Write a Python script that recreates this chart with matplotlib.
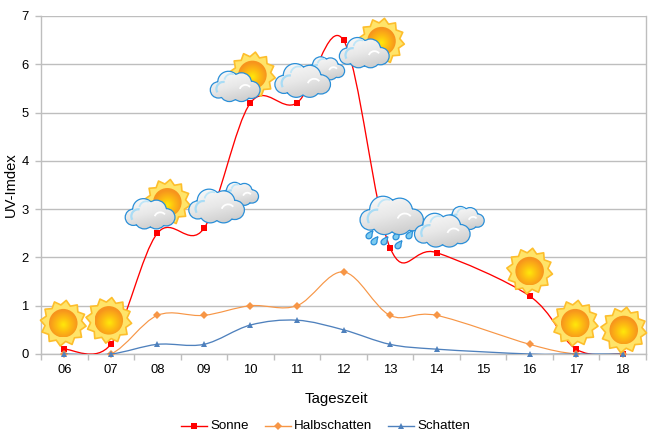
#!/usr/bin/env python3

import numpy as np
import matplotlib
matplotlib.use("Agg")
import matplotlib.pyplot as plt
from matplotlib.path import Path
from matplotlib.patches import PathPatch, Circle, Polygon, Arc
from matplotlib.lines import Line2D
from matplotlib.colors import LinearSegmentedColormap

plt.rcParams['font.family'] = ['Liberation Sans', 'DejaVu Sans']

hours = ["06", "07", "08", "09", "10", "11", "12", "13", "14", "15", "16", "17", "18"]
sonne = [0.1, 0.2, 2.5, 2.6, 5.2, 5.2, 6.5, 2.2, 2.1, None, 1.2, 0.1, 0.0]
halbschatten = [0.0, 0.0, 0.8, 0.8, 1.0, 1.0, 1.7, 0.8, 0.8, None, 0.2, 0.0, 0.0]
schatten = [0.0, 0.0, 0.2, 0.2, 0.6, 0.7, 0.5, 0.2, 0.1, None, 0.0, 0.0, 0.0]

# weather icon per hour, offset in pixels from the Sonne marker
icons = {
    "06": ("sun", -1, -26), "07": ("sun", -2, -24), "08": ("partly", -7, -20),
    "09": ("clouds", 13, -23), "10": ("partly", -15, -17), "11": ("clouds", 6, -23),
    "12": ("partly", 21, 12), "13": ("rain", 2, -33), "14": ("clouds", 6, -23),
    "16": ("sun", 0, -25), "17": ("sun", -1, -26), "18": ("sun", 1, -24),
}

W, H = 658, 441
GRID = "#BEBEBE"
RED, ORANGE, BLUE = "#FF0000", "#F79646", "#4F81BD"


def smooth_path(xs, ys):
    # same kind of bezier smoothing as a spreadsheet line chart
    verts = [(xs[0], ys[0])]
    codes = [Path.MOVETO]
    n = len(xs)
    for i in range(n - 1):
        a, b = max(i - 1, 0), min(i + 2, n - 1)
        verts.append((xs[i] + (xs[i + 1] - xs[a]) / 6, ys[i] + (ys[i + 1] - ys[a]) / 6))
        verts.append((xs[i + 1] - (xs[b] - xs[i]) / 6, ys[i + 1] - (ys[b] - ys[i]) / 6))
        verts.append((xs[i + 1], ys[i + 1]))
        codes += [Path.CURVE4] * 3
    return Path(verts, codes)


def draw_series(ax, values, color, marker, ms, lw, mcolor, z):
    pts = [(i, v) for i, v in enumerate(values) if v is not None]
    xs = [p[0] for p in pts]
    ys = [p[1] for p in pts]
    ax.add_patch(PathPatch(smooth_path(xs, ys), fc="none", ec=color, lw=lw, zorder=z))
    ax.plot(xs, ys, ls="none", marker=marker, ms=ms, mfc=mcolor, mew=0, zorder=z + 0.5, clip_on=False)


fig = plt.figure(figsize=(W / 100, H / 100), dpi=100)
ax = fig.add_axes([41 / W, 1 - 354 / H, 605 / W, 338 / H])

ax.set_xlim(-0.5, 12.5)
ax.set_ylim(0, 7)
ax.set_yticks(range(8))
ax.set_xticks(range(13))
ax.set_xticklabels(hours)
ax.set_xticks(np.arange(-0.5, 13), minor=True)
ax.tick_params(axis="x", which="major", length=0, labelsize=9.4, pad=7, labelcolor="black")
ax.tick_params(axis="x", which="minor", length=4, color=GRID, width=1)
ax.tick_params(axis="y", length=4, color=GRID, width=1, labelsize=9.4, pad=5)
ax.grid(axis="y", color=GRID, lw=1)
ax.set_axisbelow(True)
ax.spines["top"].set_visible(False)
for s in ["left", "right", "bottom"]:
    ax.spines[s].set_color(GRID)
    ax.spines[s].set_linewidth(1)

draw_series(ax, sonne, RED, "s", 5, 0.95, RED, 3)
draw_series(ax, halbschatten, ORANGE, "D", 4, 0.85, ORANGE, 4)
draw_series(ax, schatten, BLUE, "^", 5, 0.95, BLUE, 5)

ax.set_xlabel("Tageszeit", fontsize=10.8)
ax.xaxis.set_label_coords((336 - 41) / 605, -(399 - 354) / 338, transform=ax.transAxes)
ax.xaxis.label.set_va("center")
ax.set_ylabel("UV-Imdex", fontsize=10.6)
ax.yaxis.set_label_coords(-(41 - 11) / 605, (354 - 185) / 338, transform=ax.transAxes)
ax.yaxis.label.set_va("center")

# legend by hand, the columns of fig.legend came out too wide
for x0, label, color, marker, ms in [(181, "Sonne", RED, "s", 5), (265, "Halbschatten", ORANGE, "D", 4),
                                     (388, "Schatten", BLUE, "^", 5)]:
    fig.add_artist(Line2D([x0 / W, (x0 + 26) / W], [1 - 426 / H] * 2, color=color, lw=1.0,
                          transform=fig.transFigure))
    fig.add_artist(Line2D([(x0 + 13) / W], [1 - 426 / H], color=color, marker=marker, ms=ms, mew=0,
                          ls="none", transform=fig.transFigure))
    fig.text((x0 + 29) / W, 1 - 426 / H, label, fontsize=9.6, va="center", ha="left")

# overlay in pixel coords for the weather icons
ov = fig.add_axes([0, 0, 1, 1], zorder=10)
ov.patch.set_alpha(0)
ov.axis("off")

sun_cmap = LinearSegmentedColormap.from_list("s", ["#FFE80A", "#FDBB12", "#F7941D"])
cloud_cmap = LinearSegmentedColormap.from_list("c", ["#FFFFFF", "#E8E8E8", "#C2C2C2"])


def draw_sun(cx, cy, r=23, z=20):
    n = 12
    ang = np.linspace(0, 2 * np.pi, n * 2, endpoint=False) + 0.13
    rad = np.where(np.arange(n * 2) % 2 == 0, r, r * 0.8)
    star = np.column_stack([cx + rad * np.cos(ang), cy + rad * np.sin(ang)])
    ov.add_patch(Polygon(star, closed=True, fc="#FFE469", ec="#FDBE2C", lw=1.2, joinstyle="round", zorder=z))
    rd = r * 0.62
    g = np.linspace(-1, 1, 60)
    gx, gy = np.meshgrid(g, g)
    d = np.clip(np.hypot(gx, gy - 0.15), 0, 1)
    im = ov.imshow(d, extent=(cx - rd, cx + rd, cy + rd, cy - rd), cmap=sun_cmap, vmin=0, vmax=1,
                   zorder=z + 0.1, aspect="auto", origin="upper")
    im.set_clip_path(Circle((cx, cy), rd, transform=ov.transData))


def draw_cloud(cx, cy, k=1.0, z=21):
    lobes = [(-17, 4, 7.5), (-7, -4, 10), (6, -3, 9.5), (16, 4, 8), (-6, 6, 9), (6, 6, 9), (0, 1, 10)]
    parts = [Path.circle((cx + k * a, cy + k * b), k * c) for a, b, c in lobes]
    shape = Path.make_compound_path(*parts)
    ov.add_patch(PathPatch(shape, fc="#2A8FD8", ec="#2A8FD8", lw=1.8, zorder=z))
    w, h = 27 * k, 18 * k
    g = np.linspace(0, 1, 50)
    gx, gy = np.meshgrid(g, g)
    im = ov.imshow(gy * 0.75 + gx * 0.25, extent=(cx - w, cx + w, cy + h, cy - h), cmap=cloud_cmap,
                   vmin=0, vmax=1, zorder=z + 0.1, aspect="auto", origin="upper")
    im.set_clip_path(PathPatch(shape, transform=ov.transData))
    ov.add_patch(Arc((cx - 12 * k, cy + 3 * k), 14 * k, 14 * k, theta1=150, theta2=280, ec="#A9DCF5",
                     lw=1.6, zorder=z + 0.2))
    ov.add_patch(Arc((cx - 4 * k, cy - 5 * k), 14 * k, 14 * k, theta1=190, theta2=290, ec="#BFE6F8",
                     lw=1.3, zorder=z + 0.2))
    ov.add_patch(Arc((cx + 10 * k, cy + 5 * k), 12 * k, 12 * k, theta1=200, theta2=320, ec="#FFFFFF",
                     lw=1.3, zorder=z + 0.2))


def draw_drop(x, y, z=20):
    ov.add_patch(PathPatch(Path([(x - 3, y + 0.5), (x - 3, y + 4), (x + 3, y + 4), (x + 3, y - 0.5),
                                 (x + 3, y - 2), (x + 3.5, y - 4), (x + 4, y - 5),
                                 (x + 1, y - 4), (x - 3, y - 2.5), (x - 3, y + 0.5)],
                                [Path.MOVETO] + [Path.CURVE4] * 9),
                           fc="#7CCBF0", ec="#2A8FD8", lw=0.9, zorder=z))


sonne_px = {}
for i, v in enumerate(sonne):
    if v is not None:
        p = ax.transData.transform((i, v))
        sonne_px[hours[i]] = (p[0], H - p[1])

for hour, (kind, dx, dy) in icons.items():
    x, y = sonne_px[hour]
    x, y = x + dx, y + dy
    if kind == "sun":
        draw_sun(x, y)
    elif kind == "partly":
        draw_sun(x + 17, y - 11, r=23, z=20)
        draw_cloud(x, y, 1.0, z=21)
    elif kind == "clouds":
        draw_cloud(x + 23, y - 12, 0.75, z=20)
        draw_cloud(x, y, 1.12, z=22)
    else:
        for ddx, ddy in [(-23, 21), (-18, 27), (-8, 27), (4, 22), (6, 31), (17, 21)]:
            draw_drop(x + ddx, y + ddy)
        draw_cloud(x, y, 1.28, z=21)

ov.set_xlim(0, W)
ov.set_ylim(H, 0)

fig.savefig("out.png", dpi=100)
